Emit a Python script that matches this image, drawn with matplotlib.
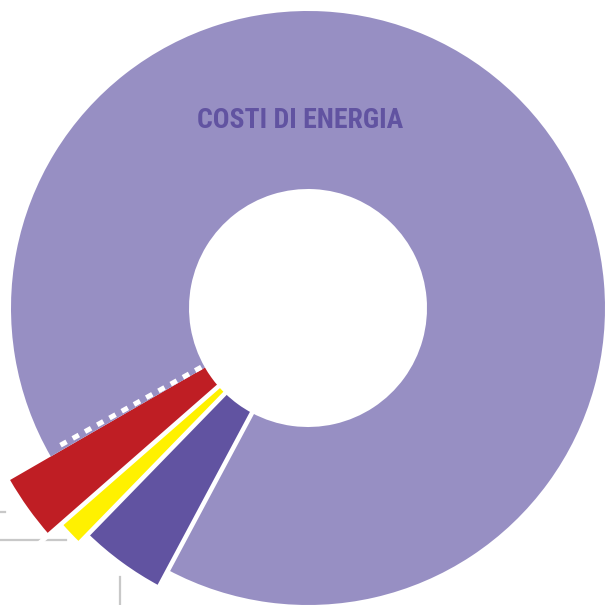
import numpy as np
import matplotlib.pyplot as plt
from matplotlib.patches import Wedge

# dati (quote in percentuale, in senso antiorario a partire da sinistra-basso)
categorie = ['Voce C', 'Voce B', 'Voce A', 'Costi di energia']
quote = [3.11, 1.28, 4.47, 91.14]
raggi = [344, 327, 315, 297]
colori = ['#bf1e24', '#fff100', '#6153a1', '#978fc3']
titolo = 'COSTI DI ENERGIA'

W, H = 607, 605
cx, cy = 308, H - 308
r_in = 119
start = 210.0  # angolo di partenza (gradi)

fig = plt.figure(figsize=(W / 100, H / 100), dpi=100)
ax = fig.add_axes([0, 0, 1, 1])
ax.set_xlim(0, W)
ax.set_ylim(0, H)
ax.axis('off')

ang = start + np.concatenate([[0], np.cumsum(quote)]) * 3.6
for i in range(len(quote)):
    ax.add_patch(Wedge((cx, cy), raggi[i], ang[i], ang[i + 1], width=raggi[i] - r_in,
                       facecolor=colori[i], edgecolor='none', zorder=2))

# separatori bianchi tra le fette
for k in [1, 2, 3]:
    a = np.radians(ang[k])
    r = np.array([r_in - 5, 360])
    ax.plot(cx + r * np.cos(a), cy + r * np.sin(a), color='white', lw=3.3,
            solid_capstyle='butt', zorder=3)
# separatore tratteggiato tra energia e prima fetta
a = np.radians(ang[0] - 1.0)
r = np.array([r_in + 3, raggi[3] - 8])
ax.plot(cx + r * np.cos(a), cy + r * np.sin(a), color='white', lw=3.6,
        dashes=(1.4, 1.4), dash_capstyle='butt', zorder=3)

# linee guida delle etichette (tagliate dal bordo)
ax.plot([0, 5], [H - 512, H - 512], color='#c8c8c8', lw=1.6, zorder=1)
ax.plot([0, 66], [H - 540, H - 540], color='#c8c8c8', lw=1.6, zorder=1)
ax.plot([120, 120], [H - 577, 0], color='#c8c8c8', lw=1.6, zorder=1)

ax.text(300, H - 120, titolo, ha='center', va='center', fontsize=20,
        fontweight='heavy', fontstretch='condensed', color='#6153a1',
        family=['Roboto Condensed', 'DejaVu Sans'], zorder=4)

fig.savefig('out.png', dpi=100)
